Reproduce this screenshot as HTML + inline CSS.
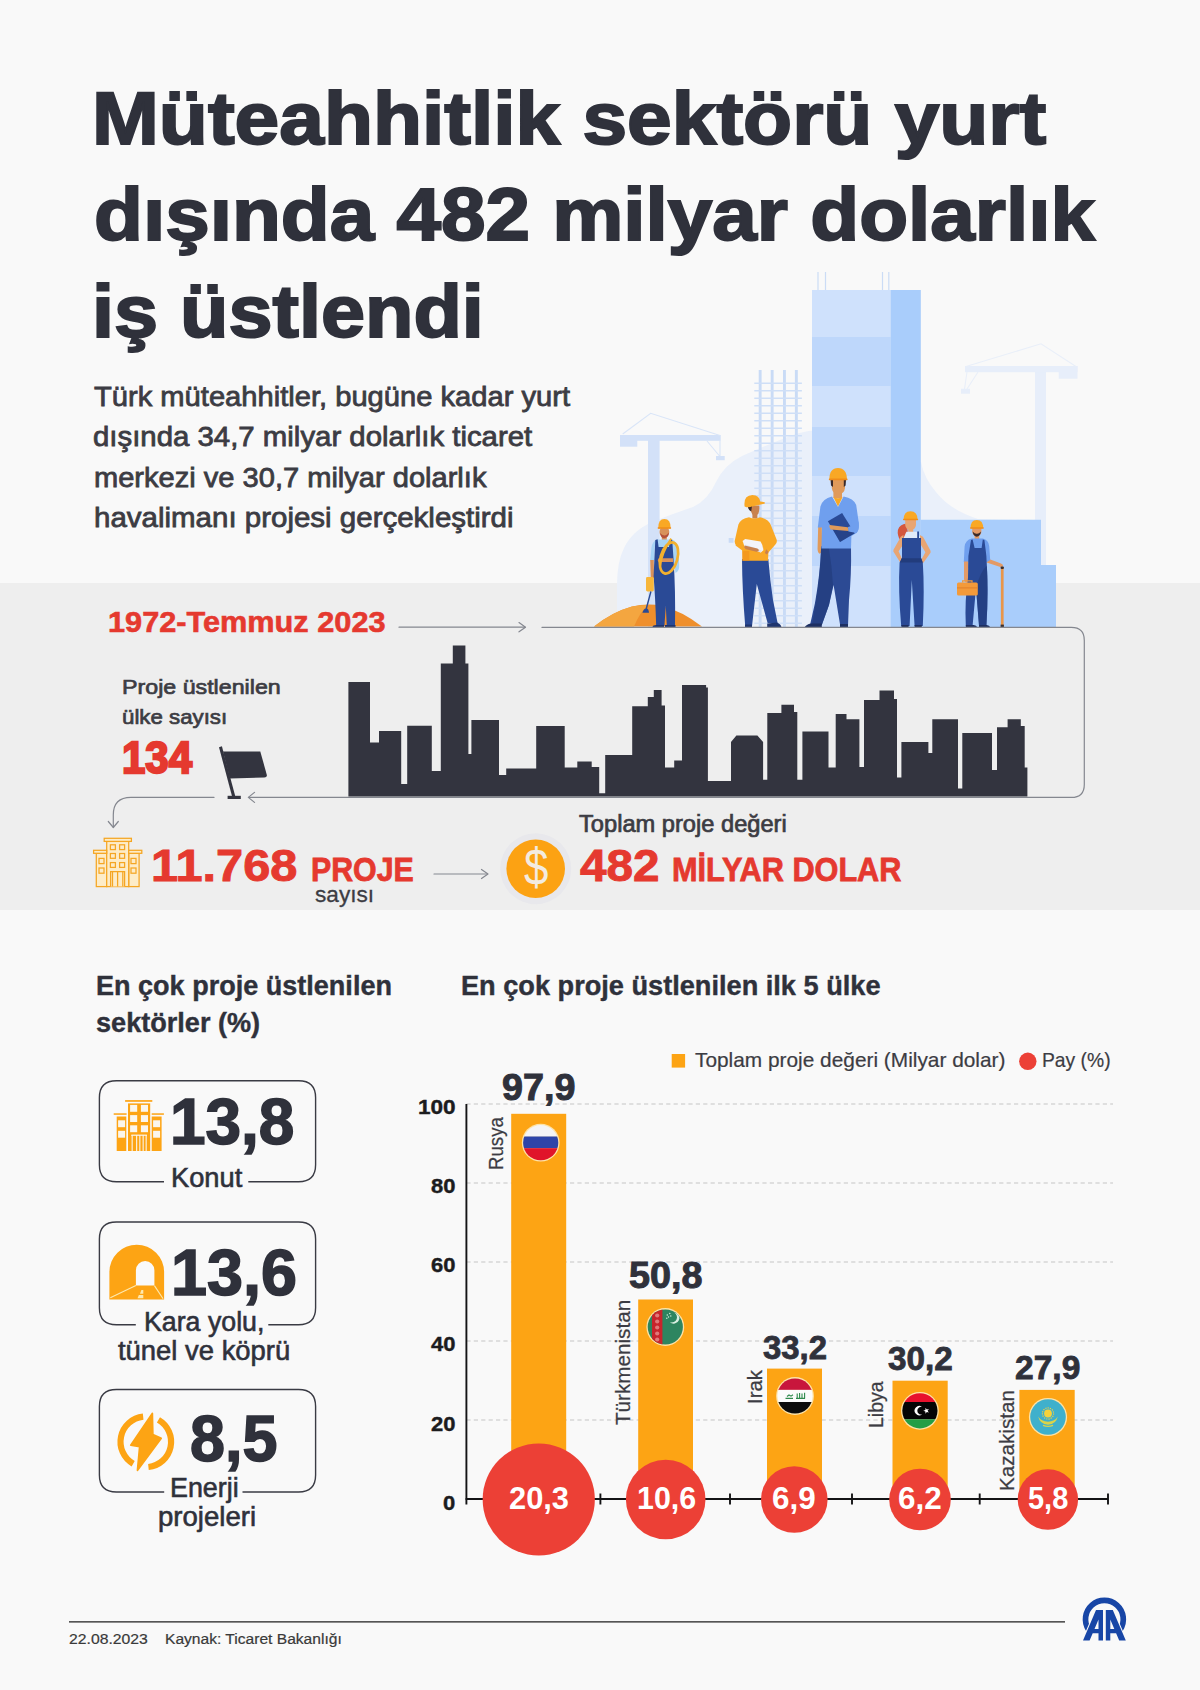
<!DOCTYPE html>
<html lang="tr">
<head>
<meta charset="utf-8">
<title>Müteahhitlik sektörü</title>
<style>
html,body{margin:0;padding:0;}
body{width:1200px;height:1690px;background:#f9f9f9;font-family:"Liberation Sans",sans-serif;overflow:hidden;}
#page{position:relative;width:1200px;height:1690px;overflow:hidden;background:#f9f9f9;}
.t{position:absolute;white-space:nowrap;line-height:1;transform-origin:0 0;margin:0;padding:0;}
svg.layer{position:absolute;left:0;top:0;width:1200px;height:1690px;overflow:visible;}
#band{position:absolute;left:0;top:583.2px;width:1200px;height:327.2px;background:#eeeeee;}
</style>
</head>
<body>
<div id="page">
<div id="band"></div>

<svg class="layer" viewBox="0 0 1200 1690">
<!-- soft blob -->
<path fill="#eaf0fa" d="M617 626.5 V585 Q617 562 624 548 Q632 531 652 522 Q672 514 693 507 Q708 500 716 482 Q724 465 742 456 Q762 447 790 436 Q812 428 840 430 L921 462 Q924 478 936 492 Q950 510 978 519 L1041 520 V626.5 Z"/>
<!-- left crane -->
<g fill="#d3e1f8">
<rect x="648" y="437" width="11.6" height="190"/>
<rect x="620" y="435" width="100.7" height="5.8"/>
<rect x="620" y="435" width="17.3" height="11.7"/>
<rect x="716" y="456" width="8.7" height="4.2"/>
</g>
<g fill="none" stroke="#d9e5f8" stroke-width="1.1">
<path d="M622.7 434 L650.7 413.3 L720 435.5"/>
<path d="M707 441 L719.5 456 M720 440.5 V456"/>
</g>
<!-- right crane (faint) -->
<g fill="#e7eefa">
<rect x="1035" y="369" width="11" height="200"/>
<rect x="965" y="366" width="112.5" height="6.2"/>
<rect x="1058.7" y="366" width="18.8" height="12.7"/>
<rect x="961" y="388.7" width="9" height="5"/>
</g>
<g fill="none" stroke="#e9eff9" stroke-width="1.1">
<path d="M966 366.5 L1041 343.8 L1076 366.5"/>
<path d="M967 372 L964.5 389 M978 372 L967 389"/>
</g>
<!-- rebar grid -->
<g fill="#c9dbf6">
<rect x="758.7" y="370" width="2.9" height="257"/>
<rect x="770.7" y="370" width="2.9" height="257"/>
<rect x="783" y="370" width="2.9" height="257"/>
<rect x="794.9" y="370" width="2.9" height="257"/>
</g>
<g stroke="#cfdff7" stroke-width="1.6" fill="none">
<path d="M754.3 383.2 H801.9 M754.3 390.7 H801.9 M754.3 398.2 H801.9 M754.3 405.7 H801.9 M754.3 413.2 H801.9 M754.3 420.7 H801.9 M754.3 428.2 H801.9 M754.3 435.7 H801.9 M754.3 443.2 H801.9 M754.3 450.7 H801.9 M754.3 458.2 H801.9 M754.3 465.7 H801.9 M754.3 473.2 H801.9 M754.3 480.7 H801.9 M754.3 488.2 H801.9 M754.3 495.7 H801.9 M754.3 503.2 H801.9 M754.3 510.7 H801.9 M754.3 518.2 H801.9 M754.3 525.7 H801.9 M754.3 533.2 H801.9 M754.3 540.7 H801.9 M754.3 548.2 H801.9 M754.3 555.7 H801.9 M754.3 563.2 H801.9 M754.3 570.7 H801.9 M754.3 578.2 H801.9 M754.3 585.7 H801.9 M754.3 593.2 H801.9 M754.3 600.7 H801.9 M754.3 608.2 H801.9 M754.3 615.7 H801.9 M754.3 623.2 H801.9"/>
</g>
<!-- main building -->
<g stroke="#cbdcf6" stroke-width="1.2" fill="none"><path d="M818 272 V291 M825.5 272 V291 M882.5 272 V291 M888.8 272 V291"/></g>
<rect x="812" y="290" width="78.5" height="337" fill="#cfe1fc"/>
<g fill="#bed7fb">
<rect x="812" y="337" width="78.5" height="49"/>
<rect x="812" y="427" width="78.5" height="49"/>
<rect x="812" y="516" width="78.5" height="50"/>
</g>
<rect x="890.5" y="290" width="30.3" height="337" fill="#a9cdfb"/>
<path fill="#a9cdfb" d="M920.7 519.8 H1041 V565 H1056 V627 H920.7 Z"/>
<!-- sand pile -->
<path fill="#ef8f2c" d="M594 626.6 Q612 612 632 606.5 Q648 603 662 606 Q682 611 702 626.6 Z"/>
<path fill="#f4a640" d="M594 626.6 Q612 612 632 606.5 Q640 604.8 648 605 Q640 612 634 626.6 Z"/>

<!-- WORKER 1 (rope) -->
<g>
<path fill="#a8d4f5" d="M657 539.5 Q652 541.5 651.4 548 L650.2 560.5 H654.5 V548 Z"/>
<path fill="#a8d4f5" d="M671 539 Q677.6 541.5 678.4 549 L679.2 565 Q679.5 571 675.5 573 L673.5 560 Z"/>
<rect x="661.8" y="534" width="5" height="6.5" fill="#d8915a"/>
<path fill="#a8d4f5" d="M656.5 539.5 H672 L675 560 H654.5 Z"/>
<path fill="#d8915a" d="M650.2 560 H653.8 L654 578 H650.8 Z"/>
<path fill="#2a4a96" d="M655.3 540 L657.6 539.3 L658.6 547 H669 L670 539.3 L672.2 539.8 L673.6 560 Q675.6 590 675 626 H666.8 L665.8 606 L664.4 626 H656.2 Q655.2 596 653.6 576 Z"/>
<path fill="#1f356f" d="M652.5 626.9 Q653 624.8 657 625 H664 V626.9 Z M665 626.9 V625 H675.5 V626.9 Z"/>
<path fill="#d8915a" d="M658.6 558.2 H673 V562 H658.6 Q656.8 560.1 658.6 558.2 Z"/>
<ellipse cx="669" cy="558" rx="8.4" ry="16" fill="none" stroke="#f2b02e" stroke-width="2.7" transform="rotate(16 669 558)"/>
<path fill="none" stroke="#f2b02e" stroke-width="2" d="M671.2 538.6 Q662 552 660 566"/>
<ellipse cx="664.4" cy="532" rx="4.9" ry="5.6" fill="#d8915a"/>
<path fill="#b5503a" d="M660 533 Q661 538.6 664.6 538.2 Q668.6 537.8 669 532.6 Q666.5 535.6 664.4 535.4 Q662 535.4 660 533 Z"/>
<path fill="#f9a825" d="M658.2 528.4 Q658 519 664.4 519 Q670.8 519 670.7 528.4 Z"/>
<rect x="657.6" y="527.3" width="13.6" height="1.5" rx="0.7" fill="#f08c1a"/>
<rect x="646" y="577" width="7.8" height="14.5" rx="1.4" fill="#f7b63a"/>
<path stroke="#2a4a96" stroke-width="1.4" d="M650.9 591.5 L646.2 609"/>
<path fill="#2a4a96" d="M642.4 612.7 Q643.5 608.5 646.5 608.2 Q648.6 608.6 649 612.7 Z"/>
</g>

<!-- WORKER 2 (yellow shirt) -->
<g>
<path fill="#c9dbf6" d="M728.7 538 H733.5 V542.8 H728.7 Z"/>
<path fill="#2a4a96" d="M742 559 H768.3 Q770 580 773 600 L777.6 623 H767.6 L756.8 584 L752 626 H745.2 Q742.2 590 742 559 Z"/>
<path fill="#1f356f" d="M745 627 V624.6 H752 V627 Z M767.2 627 V623.4 L777 622.6 Q781 624.6 781.4 627 Z"/>
<rect x="752.4" y="511" width="5" height="7.5" fill="#c8814e"/>
<path fill="#f9a825" d="M749 517.2 Q754.5 519.6 760 517.2 Q768.5 519 770.8 525 L776.6 539.5 Q777.4 542.5 775.4 544.5 L768.4 552.5 L768 560.8 H742.4 L742.2 549 L736.6 545.4 Q734.2 543.6 734.8 540.6 L738.4 524.6 Q740.6 518.6 749 517.2 Z"/>
<path fill="#f08c1a" d="M742.4 551 H749.2 V560.8 H742.4 Z" opacity="0.55"/>
<path fill="#f3f4fa" d="M742.6 541 L745.2 539 L760.6 541.6 Q763 545 763.4 550.2 L760.8 552.6 L744.4 546.2 Z"/>
<path fill="#dfe4f0" d="M744.4 546.2 L760.8 552.6 L761.6 550.6 L745.6 544.4 Z"/>
<path fill="#c8814e" d="M744.6 545.6 L757.4 548.6 Q759.6 549.6 758.6 551.2 L756.4 551.8 L744 548.8 Z"/>
<path fill="#c8814e" d="M766.2 549.2 L768.6 552 L767 554.6 L764.8 553 Z"/>
<path fill="#f9a825" d="M736.2 542.4 L742.8 546.2 L745.4 548.6 L743.6 551.4 L735.6 545.4 Z"/>
<path fill="#c8814e" d="M750.6 505.5 Q750 512.6 753.4 515.4 Q756.6 516.6 758.4 513.6 Q759.8 510 759.2 505.5 Z"/>
<path fill="#3a2a2a" d="M747.6 505.4 Q748.2 510.6 751.2 511.4 L752 506 Z"/>
<path fill="#f9a825" d="M744.6 506.4 Q743.2 495.4 752.4 495 Q759.4 495.2 760.2 501.4 L764.6 502.2 Q765.4 503.4 764.2 503.8 L752 506.6 Q748 508 744.6 506.4 Z"/>
</g>

<!-- WORKER 3 (tall, clipboard) -->
<g>
<path fill="#e09a5a" d="M818.2 526.5 H821.8 L822.2 549 Q821.4 554 819.2 553.6 Q817.2 551.6 817.6 547 Z"/>
<path fill="#2c4a94" d="M821.2 546.5 H851 Q851.6 575 849 600 L848 625.4 H840.2 L833.6 585 L829 605 L821.8 625 H810 L815 603 Q820 575 821.2 546.5 Z"/>
<path fill="#233d7d" d="M821.2 546.5 H828.6 Q832 566 833 585 L829 605 L821.8 625 H812 L815.6 603 Q820.4 575 821.2 546.5 Z" opacity="0.75"/>
<path fill="#1d2f62" d="M804.8 627 Q806 624.4 811 623.4 L821.8 623.6 V627 Z M840 627 V624 H848 V627 Z"/>
<rect x="833.4" y="489" width="8.6" height="9" fill="#e09a5a"/>
<path fill="#6f9fee" d="M832 496.4 L838 507 L843.6 496.4 Q853.6 498 856.2 505 L858.8 523 Q859.4 530 856.4 533 L851.4 536 L851 548.4 H821.4 L822 527.6 H817.8 L820.4 506.6 Q822.4 498.6 832 496.4 Z"/>
<path fill="#f9a825" d="M833.4 497 L838 506.4 L842.6 497 Q838 499.4 833.4 497 Z"/>
<path fill="#2a4a96" d="M827.9 521.2 L842.1 513 L854.7 533.2 L840 542 Z"/>
<path fill="#223c7c" d="M831.6 527.2 L852 530 L854.7 533.2 L840 542 Z" opacity="0.5"/>
<path fill="#e09a5a" d="M829.6 525 L847.6 527.2 Q849.6 529 848.6 531 L830.6 529.6 Q828.6 527.4 829.6 525 Z"/>
<path fill="#6f9fee" d="M851.4 506 L858.4 522 Q859.6 530 856.6 533 L848.4 531.6 L848 527 L851.2 526 Z"/>
<path fill="#e09a5a" d="M831.8 480 H845 V488 Q844.2 494 838.4 494.4 Q832.6 494 831.8 488 Z"/>
<path fill="#3a2a2a" d="M830.6 480 H833 V487 L831 485.4 Z M843.8 480 H846 L845.6 485.4 L843.8 487 Z"/>
<path fill="#f9a825" d="M829.4 479.8 Q829.2 468 838 468 Q846.8 468 847 479.8 Z"/>
<rect x="828.8" y="478.6" width="18.8" height="1.7" rx="0.8" fill="#f08c1a"/>
</g>

<!-- WORKER 4 (female) -->
<g>
<path fill="#d4573d" d="M906.5 523.6 Q899.8 524.2 897.9 530 Q897 535.4 900.4 540.6 Q902.2 541.4 903.6 539.4 Q905 535 908 533.4 Z"/>
<rect x="908.2" y="527" width="5" height="5.6" fill="#e8a573"/>
<path fill="#dfeaf9" d="M906.4 531.8 H917.6 L920.4 538.6 H903.4 Z"/>
<path fill="#e8a573" d="M903.4 535 Q900.2 536.2 899 540 L893.6 549.4 Q892.8 551.2 894 552.6 L900.8 563.4 L903.2 561.6 L898.6 551.2 L903.6 544 Z"/>
<path fill="#e8a573" d="M920 535 Q923.4 536.2 924.8 540 L930.4 550.4 Q931.2 552.2 930 553.6 L922.8 563.4 L920.4 561.6 L925.4 552.2 L920.4 544 Z"/>
<path fill="#2a4a96" d="M902 538 H921 L921 558 L922.8 562.6 Q924.6 590 922.8 626 H914.6 L911.8 580 L909.6 626 H901.2 Q898 590 899.6 562.6 L902 558 Z"/>
<path fill="#2a4a96" d="M917.2 531.4 H919 V538.6 H917.2 Z"/>
<path fill="#223c7c" d="M901.6 558.2 H921.2 L922.6 562.6 H900 Z"/>
<path fill="#1d2f62" d="M901.4 627 V625 H908.6 V627 Z M914.6 627 V625 H921.8 V627 Z"/>
<path fill="#e8a573" d="M905.2 520 H916 V525 Q915.4 529.8 910.6 530 Q905.8 529.8 905.2 525 Z"/>
<path fill="#f9a825" d="M903.6 519.8 Q903.4 511.2 910.5 511.2 Q917.6 511.2 917.6 519.8 Z"/>
<rect x="903" y="518.8" width="15.2" height="1.5" rx="0.7" fill="#f08c1a"/>
</g>

<!-- WORKER 5 (beard, cane, toolbox) -->
<g>
<path fill="#e39a66" d="M987.6 558.6 L1001 563.6 Q1003.4 564.6 1003.2 566.6 L1000.4 567 L986.6 562.6 Z"/>
<rect x="1000.9" y="567" width="2.7" height="60" fill="#e8964a"/>
<rect x="1000.6" y="566.4" width="3.3" height="2.6" rx="1" fill="#3a3030"/>
<rect x="1000.6" y="624.6" width="3.3" height="2.4" fill="#3a3030"/>
<rect x="974.6" y="533" width="4.6" height="6" fill="#e39a66"/>
<path fill="#6f9fee" d="M971.6 538.6 H982.8 Q988.4 540 989.2 546 L990.2 560 L986.4 562.6 L986 550 L985.6 568 H968 L968.4 562 H963.8 L964.6 546.6 Q965.6 540 971.6 538.6 Z"/>
<path fill="#e39a66" d="M964 561.6 H968.2 L968.6 580 Q968 583 965.8 582.6 Q964 582 964 579 Z"/>
<path fill="#2a4a96" d="M971 540 L972.6 539.4 L974.6 548 H981.6 L982.8 539.4 L984.4 540 L986.4 556 Q988.6 590 986.4 625.6 H979 L976 588 L972.6 625.6 H965.8 Q964.6 600 968 578 L968.4 556 Z"/>
<path fill="#223c7c" d="M976 588 L979 625.6 H986.4 Q988.6 590 986.8 566 Q981 570 976 588 Z" opacity="0.7"/>
<path fill="#1d2f62" d="M965.8 627 V625 H973.6 Q976.6 625.6 977 627 Z M979 627 V625 H986.6 Q989.6 625.6 990 627 Z"/>
<rect x="957" y="582.4" width="20.8" height="13.2" rx="1.6" fill="#f39a3a"/>
<path fill="none" stroke="#f39a3a" stroke-width="1.2" d="M962.6 582.6 V580.8 H972 V582.6"/>
<rect x="957" y="587.4" width="20.8" height="1" fill="#e0802a"/>
<path fill="#e39a66" d="M972.2 528 H981.4 V532 Q980.8 536 976.8 536.2 Q972.8 536 972.2 532 Z"/>
<path fill="#3a2a2a" d="M972.6 531.6 Q973.4 536.6 976.8 536.8 Q980.2 536.6 981 531.6 Q978.8 534 976.8 533.8 Q974.8 534 972.6 531.6 Z"/>
<path fill="#f9a825" d="M970.6 528.2 Q970.4 520 976.8 520 Q983.2 520 983.2 528.2 Z"/>
<rect x="970" y="527.2" width="13.8" height="1.5" rx="0.7" fill="#f08c1a"/>
</g>
</svg>

<svg class="layer" viewBox="0 0 1200 1690">
<!-- connector path -->
<g fill="none" stroke="#84878f" stroke-width="1.2" stroke-linecap="round" stroke-linejoin="round">
<path d="M399 627.2 H525"/>
<path d="M519 622.6 L525.5 627.2 L519 631.8"/>
<path d="M542 627.4 H1071.3 Q1084.3 627.4 1084.3 640.4 V784.4 Q1084.3 797.4 1071.3 797.4 H249"/>
<path d="M254.5 792.4 L248.3 797.4 L254.5 802.4"/>
<path d="M214 797.4 H131 Q113.3 797.4 113.3 815 V827"/>
<path d="M108.3 821.5 L113.3 827.5 L118.3 821.5"/>
<path d="M434 874 H487"/>
<path d="M481.5 869.5 L488 874 L481.5 878.5"/>
</g>
<!-- skyline -->
<path fill="#33343f" d="M348.4 796.6 V682 H370 V742.6 H379 V731 H401.2 V784 H407.2 V725.8 H431.8 V771 H440.8 V663.4 H452.8 V645.4 H465.4 V663.4 H468.4 V754 H471.4 V720 H499 V775 H506.2 V768.4 H536.2 V726 H564.7 V767.5 H577.3 V761.5 H591.7 V767 H599.2 V793.3 H605.2 V755 H632.2 V706.3 H647.8 V697 H653.8 V690 H661.6 V705.4 H665 V767.5 H674.2 V760.6 H682 V685 H706.1 V687.4 H707.9 V781 H731 V742 L736.4 735.4 H757.4 L763.1 742 V779.8 H767.3 V713 H781.4 V704.8 H794 V712 H797.3 V779.8 H802.4 V731.5 H828.5 V767.5 H835.7 V714 H846.5 V719.2 H859.4 V767 H864 V700 H879.5 V690.4 H894 V699 H897 V777.4 H901.4 V742 H928.4 V753 H932.3 V719.2 H958 V788.5 H962.3 V733 H992 V770 H997 V727.3 H1007.6 V719.2 H1020.8 V726 H1024.7 V767.5 H1027.4 V796.6 Z"/>
<!-- flag -->
<g fill="#33343f">
<path d="M219 747.2 L221.9 746.3 L235.2 796 L232.1 796.6 Z"/>
<path d="M223 751.5 H260.3 L266.7 774.4 Q267.5 777.5 264.3 777.6 L229.8 778.5 Z"/>
<rect x="227.6" y="795.8" width="13.2" height="3.2"/>
</g>
<!-- coin -->
<circle cx="535.7" cy="868.7" r="35.5" fill="#e8e8ec"/>
<circle cx="535.7" cy="868.7" r="29.3" fill="#fca213"/>
<!-- building outline icon -->
<g fill="#fdecc8" stroke="#f5a623" stroke-width="1.25" stroke-linejoin="miter">
<rect x="96.3" y="853.3" width="10.4" height="33.3"/>
<rect x="128.7" y="853.3" width="10.4" height="33.3"/>
<rect x="106.7" y="841.4" width="22" height="45.2"/>
<rect x="104.2" y="838.3" width="27.2" height="3.1"/>
<rect x="93.6" y="850.3" width="13.1" height="3"/>
<rect x="128.7" y="850.3" width="13.1" height="3"/>
<rect x="110.4" y="844.8" width="5" height="4.8"/><rect x="119.6" y="844.8" width="5" height="4.8"/>
<rect x="110.4" y="853.5" width="5" height="4.8"/><rect x="119.6" y="853.5" width="5" height="4.8"/>
<rect x="110.4" y="862.6" width="5" height="4.8"/><rect x="119.6" y="862.6" width="5" height="4.8"/>
<rect x="99" y="858.4" width="5" height="5.2"/><rect x="99" y="868" width="5" height="5.2"/>
<rect x="131" y="858.4" width="5" height="5.2"/><rect x="131" y="868" width="5" height="5.2"/>
<path d="M110.6 886.6 V871.6 H124.6 V886.6 M112.5 871.6 V886.6 M117.6 871.6 V886.6 M122.8 871.6 V886.6"/>
</g>
</svg>
<div class="t" style="left:523.8px;top:841.7px;font-size:51.5px;color:#f3ebe0;font-weight:normal;transform:scaleX(0.853);">$</div>

<svg class="layer" viewBox="0 0 1200 1690">
<g fill="none" stroke="#3a3b44" stroke-width="1.4">
<path d="M248.3 1181.7 H298.6 Q315.6 1181.7 315.6 1164.7 V1097.7 Q315.6 1080.7 298.6 1080.7 H116.4 Q99.4 1080.7 99.4 1097.7 V1164.7 Q99.4 1181.7 116.4 1181.7 H164"/>
<path d="M268.3 1324.8 H298.6 Q315.6 1324.8 315.6 1307.8 V1239 Q315.6 1222 298.6 1222 H116.4 Q99.4 1222 99.4 1239 V1307.8 Q99.4 1324.8 116.4 1324.8 H135.8"/>
<path d="M242.5 1492 H298.6 Q315.6 1492 315.6 1475 V1406.5 Q315.6 1389.5 298.6 1389.5 H116.4 Q99.4 1389.5 99.4 1406.5 V1475 Q99.4 1492 116.4 1492 H164.2"/>
</g>
<g fill="#fda414">
<rect x="128" y="1103.4" width="22.2" height="47.6"/>
<rect x="125.1" y="1100.1" width="27.2" height="1.7"/>
<rect x="116.7" y="1116.5" width="9.6" height="34.5"/>
<rect x="151.7" y="1116.5" width="9.9" height="34.5"/>
<rect x="113.7" y="1113.3" width="12.9" height="1.5"/>
<rect x="151.7" y="1113.3" width="12.2" height="1.5"/>
</g>
<g fill="#fbf6ec">
<rect x="130.1" y="1104.9" width="7.1" height="6.9"/>
<rect x="130.1" y="1115.1" width="7.1" height="6.9"/>
<rect x="130.1" y="1125.3" width="7.1" height="6.9"/>
<rect x="140.9" y="1104.9" width="7.1" height="6.9"/>
<rect x="140.9" y="1115.1" width="7.1" height="6.9"/>
<rect x="140.9" y="1125.3" width="7.1" height="6.9"/>
<rect x="118.1" y="1120.3" width="7" height="6.9"/>
<rect x="118.1" y="1130.8" width="7" height="6.9"/>
<rect x="153.1" y="1120.3" width="7" height="6.9"/>
<rect x="153.1" y="1130.8" width="7" height="6.9"/>
<rect x="131.3" y="1134.6" width="15.6" height="1.2"/>
<rect x="131.6" y="1135" width="1.1" height="16"/>
<rect x="136.1" y="1135" width="1.1" height="16"/>
<rect x="139.3" y="1135" width="1.1" height="16"/>
<rect x="142.6" y="1135" width="1.1" height="16"/>
<rect x="145.6" y="1135" width="1.1" height="16"/>
</g>
<path fill="#fda414" fill-rule="evenodd" d="M109.4 1299.4 V1272 A27.35 27.35 0 0 1 164.1 1272 V1299.4 Z M135.9 1285.6 V1270.2 A9.25 9.25 0 0 1 154.4 1270.2 V1285.6 Z"/>
<g stroke="#fde9b0" stroke-width="1.1" fill="none"><path d="M135.9 1285.6 L110.3 1297.8"/><path d="M154.4 1285.6 L163.1 1298.7"/></g>
<g fill="#fde9b0"><path d="M141.4 1290 H143.3 L143.3 1293.8 H140 Z"/><path d="M138.9 1295 H143.3 V1298.2 H137.5 Z"/></g>
<g fill="none" stroke="#fda414" stroke-width="6.2">
<path d="M133.15 1463.71 A25.3 25.3 0 0 1 143.16 1416.64"/>
<path d="M158.45 1419.89 A25.3 25.3 0 0 1 148.44 1466.96"/>
</g>
<path fill="#fda414" stroke="#fda414" stroke-width="1.6" stroke-linejoin="round" d="M152.4 1413.2 L130.7 1445.2 L139.6 1446.6 L137.4 1470.4 L161.3 1438.3 L152.9 1434.4 Z"/>
</svg>
<svg class="layer" viewBox="0 0 1200 1690">
<g stroke="#b4b4b4" stroke-width="0.75" stroke-dasharray="4.2 3.2" fill="none">
<path d="M466.4 1104.0 H1113"/>
<path d="M466.4 1183.0 H1113"/>
<path d="M466.4 1262.0 H1113"/>
<path d="M466.4 1341.0 H1113"/>
<path d="M466.4 1420.0 H1113"/>
</g>
<rect x="671.7" y="1054" width="13.4" height="13.6" fill="#fda414"/>
<circle cx="1027.8" cy="1061.3" r="8.7" fill="#ec4036"/>
<rect x="511.2" y="1113.8" width="55.0" height="385.2" fill="#fda414"/>
<rect x="638.2" y="1299.5" width="54.8" height="199.5" fill="#fda414"/>
<rect x="767" y="1368.6" width="55.0" height="130.4" fill="#fda414"/>
<rect x="892.5" y="1380.7" width="55.2" height="118.3" fill="#fda414"/>
<rect x="1019.4" y="1389.9" width="55.3" height="109.1" fill="#fda414"/>
<g stroke="#141416" stroke-width="1.9" fill="none">
<path d="M466.4 1104 V1504.5"/>
<path d="M465.59999999999997 1499.0 H1108"/>
<path d="M600.4 1493.5 V1504.5"/>
<path d="M730 1493.5 V1504.5"/>
<path d="M852 1493.5 V1504.5"/>
<path d="M979.7 1493.5 V1504.5"/>
<path d="M1108 1493.5 V1504.5"/>
</g>
<circle cx="538.75" cy="1499.5" r="56.1" fill="#ec4036"/>
<circle cx="665.7" cy="1499.5" r="39.8" fill="#ec4036"/>
<circle cx="794.3" cy="1499.5" r="33.3" fill="#ec4036"/>
<circle cx="920" cy="1499.5" r="30.8" fill="#ec4036"/>
<circle cx="1047.9" cy="1499.5" r="30.2" fill="#ec4036"/>
<clipPath id="fc540"><circle cx="540.7" cy="1142.7" r="17.6"/></clipPath><circle cx="540.7" cy="1142.7" r="18.900000000000002" fill="#fde3a8"/><g clip-path="url(#fc540)"><rect x="520.7" y="1122.7" width="40" height="13.9" fill="#f4f4f6"/><rect x="520.7" y="1136.5" width="40" height="11.7" fill="#2d44a8"/><rect x="520.7" y="1148.2" width="40" height="15" fill="#e0142a"/></g>
<clipPath id="fc665"><circle cx="665.3" cy="1327" r="17.6"/></clipPath><circle cx="665.3" cy="1327" r="18.900000000000002" fill="#fde3a8"/><g clip-path="url(#fc665)"><rect x="645.3" y="1307" width="40" height="40" fill="#2d8560"/><rect x="652.0" y="1307" width="10.4" height="40" fill="#c8242c"/><circle cx="657.1999999999999" cy="1315.5" r="2.1" fill="#e0797a"/><circle cx="657.1999999999999" cy="1321.5" r="2.1" fill="#e0797a"/><circle cx="657.1999999999999" cy="1327.5" r="2.1" fill="#e0797a"/><circle cx="657.1999999999999" cy="1333.5" r="2.1" fill="#e0797a"/><circle cx="657.1999999999999" cy="1339.5" r="2.1" fill="#e0797a"/><path d="M673.8 1312.5 a5.6 5.6 0 1 1 -4 9.6 a4.6 4.6 0 1 0 4 -9.6Z" fill="#d9efe2"/><circle cx="667.3" cy="1315" r="0.7" fill="#d9efe2"/><circle cx="669.8" cy="1313.5" r="0.7" fill="#d9efe2"/><circle cx="668.5" cy="1317" r="0.7" fill="#d9efe2"/><circle cx="670.8" cy="1316" r="0.7" fill="#d9efe2"/><circle cx="666.8" cy="1318.2" r="0.7" fill="#d9efe2"/></g>
<clipPath id="fc795"><circle cx="795" cy="1396" r="17.6"/></clipPath><circle cx="795" cy="1396" r="18.900000000000002" fill="#fde3a8"/><g clip-path="url(#fc795)"><rect x="775" y="1376" width="40" height="13.9" fill="#c8163c"/><rect x="775" y="1389.9" width="40" height="12.1" fill="#fbfbfb"/><rect x="775" y="1402" width="40" height="15" fill="#0c0c0c"/><path d="M785.5 1398.4 h7.5 M787 1396.5 l2 -1.5 l2 1.2 l2 -1.5 M796 1398.4 h9 M797.2 1398.4 v-5 M799.6 1398.4 v-5.4 M802 1398.4 v-5 M804.6 1398.4 v-5.6" stroke="#2f8a4c" stroke-width="1.1" fill="none"/></g>
<clipPath id="fc919"><circle cx="919.9" cy="1410.8" r="17.6"/></clipPath><circle cx="919.9" cy="1410.8" r="18.900000000000002" fill="#fde3a8"/><g clip-path="url(#fc919)"><rect x="899.9" y="1390.8" width="40" height="11.2" fill="#e8112d"/><rect x="899.9" y="1402.0" width="40" height="17.3" fill="#050505"/><rect x="899.9" y="1419.3" width="40" height="14" fill="#239e46"/><path d="M922.1 1406.8999999999999 a4.7 4.7 0 1 0 0 7.6 a3.9 3.9 0 1 1 0 -7.6Z" fill="#fff"/><path d="M923.3 1410.7 l2.1 -0.7 l0.1 -2.2 l1.3 1.8 l2.1 -0.6 l-1.3 1.8 l1.3 1.8 l-2.1 -0.7 l-1.3 1.8 l-0.1 -2.2 Z" fill="#fff"/></g>
<clipPath id="fc1048"><circle cx="1048" cy="1417" r="17.8"/></clipPath><circle cx="1048" cy="1417" r="19.1" fill="#fde3a8"/><g clip-path="url(#fc1048)"><rect x="1028" y="1397" width="40" height="40" fill="#3fb0cc"/><circle cx="1048" cy="1413.5" r="3.9" fill="#f6d23a"/><circle cx="1048" cy="1413.5" r="5.6" fill="none" stroke="#f6d23a" stroke-width="1.1" stroke-dasharray="1.2 1.1"/><path d="M1038.2 1416.5 q1.5 7.5 9.8 8.3 q8.3 -0.8 9.8 -8.3 q-3 5 -9.8 5.3 q-6.8 -0.3 -9.8 -5.3Z" fill="#d9d34a"/><path d="M1043 1425.3 q5 2.2 10 0" stroke="#d9d34a" stroke-width="1.3" fill="none"/></g>
</svg>
<svg class="layer" viewBox="0 0 1200 1690">
<path d="M69 1621.9 H1065" stroke="#1e1e1e" stroke-width="1.3" fill="none"/>
<g fill="none" stroke="#1846a6">
<path d="M1088.73 1629.87 A18.9 18.9 0 1 1 1120.07 1629.87" stroke-width="5.7"/>
</g>
<g fill="#1846a6" stroke="#f9f9f9" stroke-width="2.2" paint-order="stroke"><path fill-rule="evenodd" d="M1083.00 1640.6 L1096.00 1610 L1103.00 1610 L1103.00 1640.6 L1098.50 1640.6 L1098.50 1633.2 L1092.70 1633.2 L1089.60 1640.6 Z M1094.50 1629 L1098.50 1629 L1098.50 1619.6 Z"/><path fill-rule="evenodd" d="M1125.80 1640.6 L1112.80 1610 L1105.80 1610 L1105.80 1640.6 L1110.30 1640.6 L1110.30 1633.2 L1116.10 1633.2 L1119.20 1640.6 Z M1114.30 1629 L1110.30 1629 L1110.30 1619.6 Z"/></g>
</svg>
<div class="t" style="left:92.15px;top:80.81px;font-size:75px;font-weight:bold;color:#2f313b;transform:scaleX(1.0701);-webkit-text-stroke:2px currentColor;">Müteahhitlik sektörü yurt</div>
<div class="t" style="left:93.80px;top:176.51px;font-size:75px;font-weight:bold;color:#2f313b;transform:scaleX(1.0672);-webkit-text-stroke:2px currentColor;">dışında 482 milyar dolarlık</div>
<div class="t" style="left:92.22px;top:273.51px;font-size:75px;font-weight:bold;color:#2f313b;transform:scaleX(1.0566);-webkit-text-stroke:2px currentColor;">iş üstlendi</div>
<div class="t" style="left:94.40px;top:382.80px;font-size:28px;font-weight:normal;color:#3c3c43;transform:scaleX(1.0402);-webkit-text-stroke:0.8px currentColor;">Türk müteahhitler, bugüne kadar yurt</div>
<div class="t" style="left:93.15px;top:423.40px;font-size:28px;font-weight:normal;color:#3c3c43;transform:scaleX(1.0492);-webkit-text-stroke:0.8px currentColor;">dışında 34,7 milyar dolarlık ticaret</div>
<div class="t" style="left:94.16px;top:464.00px;font-size:28px;font-weight:normal;color:#3c3c43;transform:scaleX(1.0378);-webkit-text-stroke:0.8px currentColor;">merkezi ve 30,7 milyar dolarlık</div>
<div class="t" style="left:94.35px;top:504.00px;font-size:28px;font-weight:normal;color:#3c3c43;transform:scaleX(1.0531);-webkit-text-stroke:0.8px currentColor;">havalimanı projesi gerçekleştirdi</div>
<div class="t" style="left:108.28px;top:606.61px;font-size:30px;font-weight:bold;color:#e5392f;transform:scaleX(1.0231);-webkit-text-stroke:0.6px currentColor;">1972-Temmuz 2023</div>
<div class="t" style="left:122.33px;top:676.79px;font-size:20.8px;font-weight:normal;color:#3c3c43;transform:scaleX(1.1164);-webkit-text-stroke:0.7px currentColor;">Proje üstlenilen</div>
<div class="t" style="left:122.38px;top:707.04px;font-size:20.8px;font-weight:normal;color:#3c3c43;transform:scaleX(1.0705);-webkit-text-stroke:0.7px currentColor;">ülke sayısı</div>
<div class="t" style="left:121.77px;top:736.18px;font-size:44.5px;font-weight:bold;color:#e5392f;transform:scaleX(0.9421);-webkit-text-stroke:2.3px currentColor;">134</div>
<div class="t" style="left:151.28px;top:842.86px;font-size:45px;font-weight:bold;color:#e5392f;transform:scaleX(1.0830);-webkit-text-stroke:0.9px currentColor;">11.768</div>
<div class="t" style="left:310.87px;top:852.80px;font-size:33.2px;font-weight:bold;color:#e5392f;transform:scaleX(0.9134);-webkit-text-stroke:0.8px currentColor;">PROJE</div>
<div class="t" style="left:314.55px;top:883.87px;font-size:21.6px;font-weight:normal;color:#3c3c43;transform:scaleX(1.0478);-webkit-text-stroke:0.3px currentColor;">sayısı</div>
<div class="t" style="left:578.85px;top:812.68px;font-size:23px;font-weight:normal;color:#3c3c43;transform:scaleX(1.0284);-webkit-text-stroke:0.7px currentColor;">Toplam proje değeri</div>
<div class="t" style="left:579.75px;top:842.86px;font-size:45px;font-weight:bold;color:#e5392f;transform:scaleX(1.0600);-webkit-text-stroke:0.9px currentColor;">482</div>
<div class="t" style="left:672.26px;top:852.81px;font-size:33.3px;font-weight:bold;color:#e5392f;transform:scaleX(0.9207);-webkit-text-stroke:0.8px currentColor;">MİLYAR DOLAR</div>
<div class="t" style="left:95.51px;top:971.69px;font-size:27.3px;font-weight:bold;color:#2f313b;transform:scaleX(0.9904);-webkit-text-stroke:0.4px currentColor;">En çok proje üstlenilen</div>
<div class="t" style="left:96.00px;top:1009.19px;font-size:27.3px;font-weight:bold;color:#2f313b;transform:scaleX(0.9923);-webkit-text-stroke:0.4px currentColor;">sektörler (%)</div>
<div class="t" style="left:460.51px;top:971.69px;font-size:27.3px;font-weight:bold;color:#2f313b;transform:scaleX(0.9947);-webkit-text-stroke:0.4px currentColor;">En çok proje üstlenilen ilk 5 ülke</div>
<div class="t" style="left:169.57px;top:1089.18px;font-size:65px;font-weight:bold;color:#2f313b;transform:scaleX(0.9830);-webkit-text-stroke:1.6px currentColor;">13,8</div>
<div class="t" style="left:171.28px;top:1165.14px;font-size:27px;font-weight:normal;color:#2f313b;transform:scaleX(1.0093);-webkit-text-stroke:0.6px currentColor;">Konut</div>
<div class="t" style="left:170.57px;top:1239.88px;font-size:65px;font-weight:bold;color:#2f313b;transform:scaleX(0.9949);-webkit-text-stroke:1.6px currentColor;">13,6</div>
<div class="t" style="left:144.12px;top:1308.94px;font-size:27px;font-weight:normal;color:#2f313b;transform:scaleX(0.9901);-webkit-text-stroke:0.6px currentColor;">Kara yolu,</div>
<div class="t" style="left:118.10px;top:1337.74px;font-size:27px;font-weight:normal;color:#2f313b;transform:scaleX(1.0155);-webkit-text-stroke:0.6px currentColor;">tünel ve köprü</div>
<div class="t" style="left:189.57px;top:1405.78px;font-size:65px;font-weight:bold;color:#2f313b;transform:scaleX(0.9666);-webkit-text-stroke:1.6px currentColor;">8,5</div>
<div class="t" style="left:169.51px;top:1475.04px;font-size:27px;font-weight:normal;color:#2f313b;transform:scaleX(0.9950);-webkit-text-stroke:0.6px currentColor;">Enerji</div>
<div class="t" style="left:158.48px;top:1504.14px;font-size:27px;font-weight:normal;color:#2f313b;transform:scaleX(1.0208);-webkit-text-stroke:0.6px currentColor;">projeleri</div>
<div class="t" style="left:694.80px;top:1049.79px;font-size:20.8px;font-weight:normal;color:#3c3c43;transform:scaleX(1.0022);-webkit-text-stroke:0.2px currentColor;">Toplam proje değeri (Milyar dolar)</div>
<div class="t" style="left:1042.17px;top:1049.79px;font-size:20.8px;font-weight:normal;color:#3c3c43;transform:scaleX(0.9274);-webkit-text-stroke:0.2px currentColor;">Pay (%)</div>
<div class="t" style="left:417.83px;top:1097.96px;font-size:19.3px;font-weight:bold;color:#1c1c1e;transform:scaleX(1.1693);-webkit-text-stroke:0.4px currentColor;">100</div>
<div class="t" style="left:431.00px;top:1177.12px;font-size:19.3px;font-weight:bold;color:#1c1c1e;transform:scaleX(1.1388);-webkit-text-stroke:0.4px currentColor;">80</div>
<div class="t" style="left:431.00px;top:1256.28px;font-size:19.3px;font-weight:bold;color:#1c1c1e;transform:scaleX(1.1388);-webkit-text-stroke:0.4px currentColor;">60</div>
<div class="t" style="left:431.00px;top:1335.44px;font-size:19.3px;font-weight:bold;color:#1c1c1e;transform:scaleX(1.1388);-webkit-text-stroke:0.4px currentColor;">40</div>
<div class="t" style="left:431.00px;top:1414.60px;font-size:19.3px;font-weight:bold;color:#1c1c1e;transform:scaleX(1.1388);-webkit-text-stroke:0.4px currentColor;">20</div>
<div class="t" style="left:443.20px;top:1493.76px;font-size:19.3px;font-weight:bold;color:#1c1c1e;transform:scaleX(1.1400);-webkit-text-stroke:0.4px currentColor;">0</div>
<div class="t" style="left:502.00px;top:1068.97px;font-size:37.6px;font-weight:bold;color:#2f313b;transform:scaleX(1.0037);-webkit-text-stroke:1.0px currentColor;">97,9</div>
<div class="t" style="left:628.70px;top:1257.27px;font-size:37.6px;font-weight:bold;color:#2f313b;transform:scaleX(1.0037);-webkit-text-stroke:1.0px currentColor;">50,8</div>
<div class="t" style="left:762.90px;top:1331.86px;font-size:32.3px;font-weight:bold;color:#2f313b;transform:scaleX(1.0178);-webkit-text-stroke:0.8px currentColor;">33,2</div>
<div class="t" style="left:887.90px;top:1343.06px;font-size:32.3px;font-weight:bold;color:#2f313b;transform:scaleX(1.0291);-webkit-text-stroke:0.8px currentColor;">30,2</div>
<div class="t" style="left:1014.66px;top:1351.76px;font-size:32.3px;font-weight:bold;color:#2f313b;transform:scaleX(1.0395);-webkit-text-stroke:0.8px currentColor;">27,9</div>
<div class="t" style="left:508.59px;top:1483.38px;font-size:30.5px;font-weight:bold;color:#fff;transform:scaleX(1.0105);">20,3</div>
<div class="t" style="left:636.80px;top:1483.38px;font-size:30.5px;font-weight:bold;color:#fff;transform:scaleX(0.9965);">10,6</div>
<div class="t" style="left:772.27px;top:1483.38px;font-size:30.5px;font-weight:bold;color:#fff;transform:scaleX(1.0312);">6,9</div>
<div class="t" style="left:897.97px;top:1483.38px;font-size:30.5px;font-weight:bold;color:#fff;transform:scaleX(1.0312);">6,2</div>
<div class="t" style="left:1028.00px;top:1483.38px;font-size:30.5px;font-weight:bold;color:#fff;transform:scaleX(0.9497);">5,8</div>
<div class="t" style="left:69.10px;top:1631.89px;font-size:14.9px;font-weight:normal;color:#3a3a3a;transform:scaleX(1.0573);-webkit-text-stroke:0.2px currentColor;">22.08.2023</div>
<div class="t" style="left:164.85px;top:1631.89px;font-size:14.9px;font-weight:normal;color:#3a3a3a;transform:scaleX(1.0468);-webkit-text-stroke:0.2px currentColor;">Kaynak: Ticaret Bakanlığı</div>
<div class="t" style="left:503.00px;top:1170.19px;font-size:21px;font-weight:normal;color:#3c3c43;-webkit-text-stroke:0.25px currentColor;transform-origin:0 0;transform:rotate(-90deg) scaleX(0.8888) translateY(-17.78px);">Rusya</div>
<div class="t" style="left:630.30px;top:1424.50px;font-size:21px;font-weight:normal;color:#3c3c43;-webkit-text-stroke:0.25px currentColor;transform-origin:0 0;transform:rotate(-90deg) scaleX(0.9840) translateY(-17.78px);">Türkmenistan</div>
<div class="t" style="left:761.70px;top:1404.27px;font-size:21px;font-weight:normal;color:#3c3c43;-webkit-text-stroke:0.25px currentColor;transform-origin:0 0;transform:rotate(-90deg) scaleX(0.9650) translateY(-17.78px);">Irak</div>
<div class="t" style="left:882.50px;top:1427.63px;font-size:21px;font-weight:normal;color:#3c3c43;-webkit-text-stroke:0.25px currentColor;transform-origin:0 0;transform:rotate(-90deg) scaleX(0.9288) translateY(-17.78px);">Libya</div>
<div class="t" style="left:1013.90px;top:1491.38px;font-size:21px;font-weight:normal;color:#3c3c43;-webkit-text-stroke:0.25px currentColor;transform-origin:0 0;transform:rotate(-90deg) scaleX(0.9817) translateY(-17.78px);">Kazakistan</div>
</div>
</body>
</html>
